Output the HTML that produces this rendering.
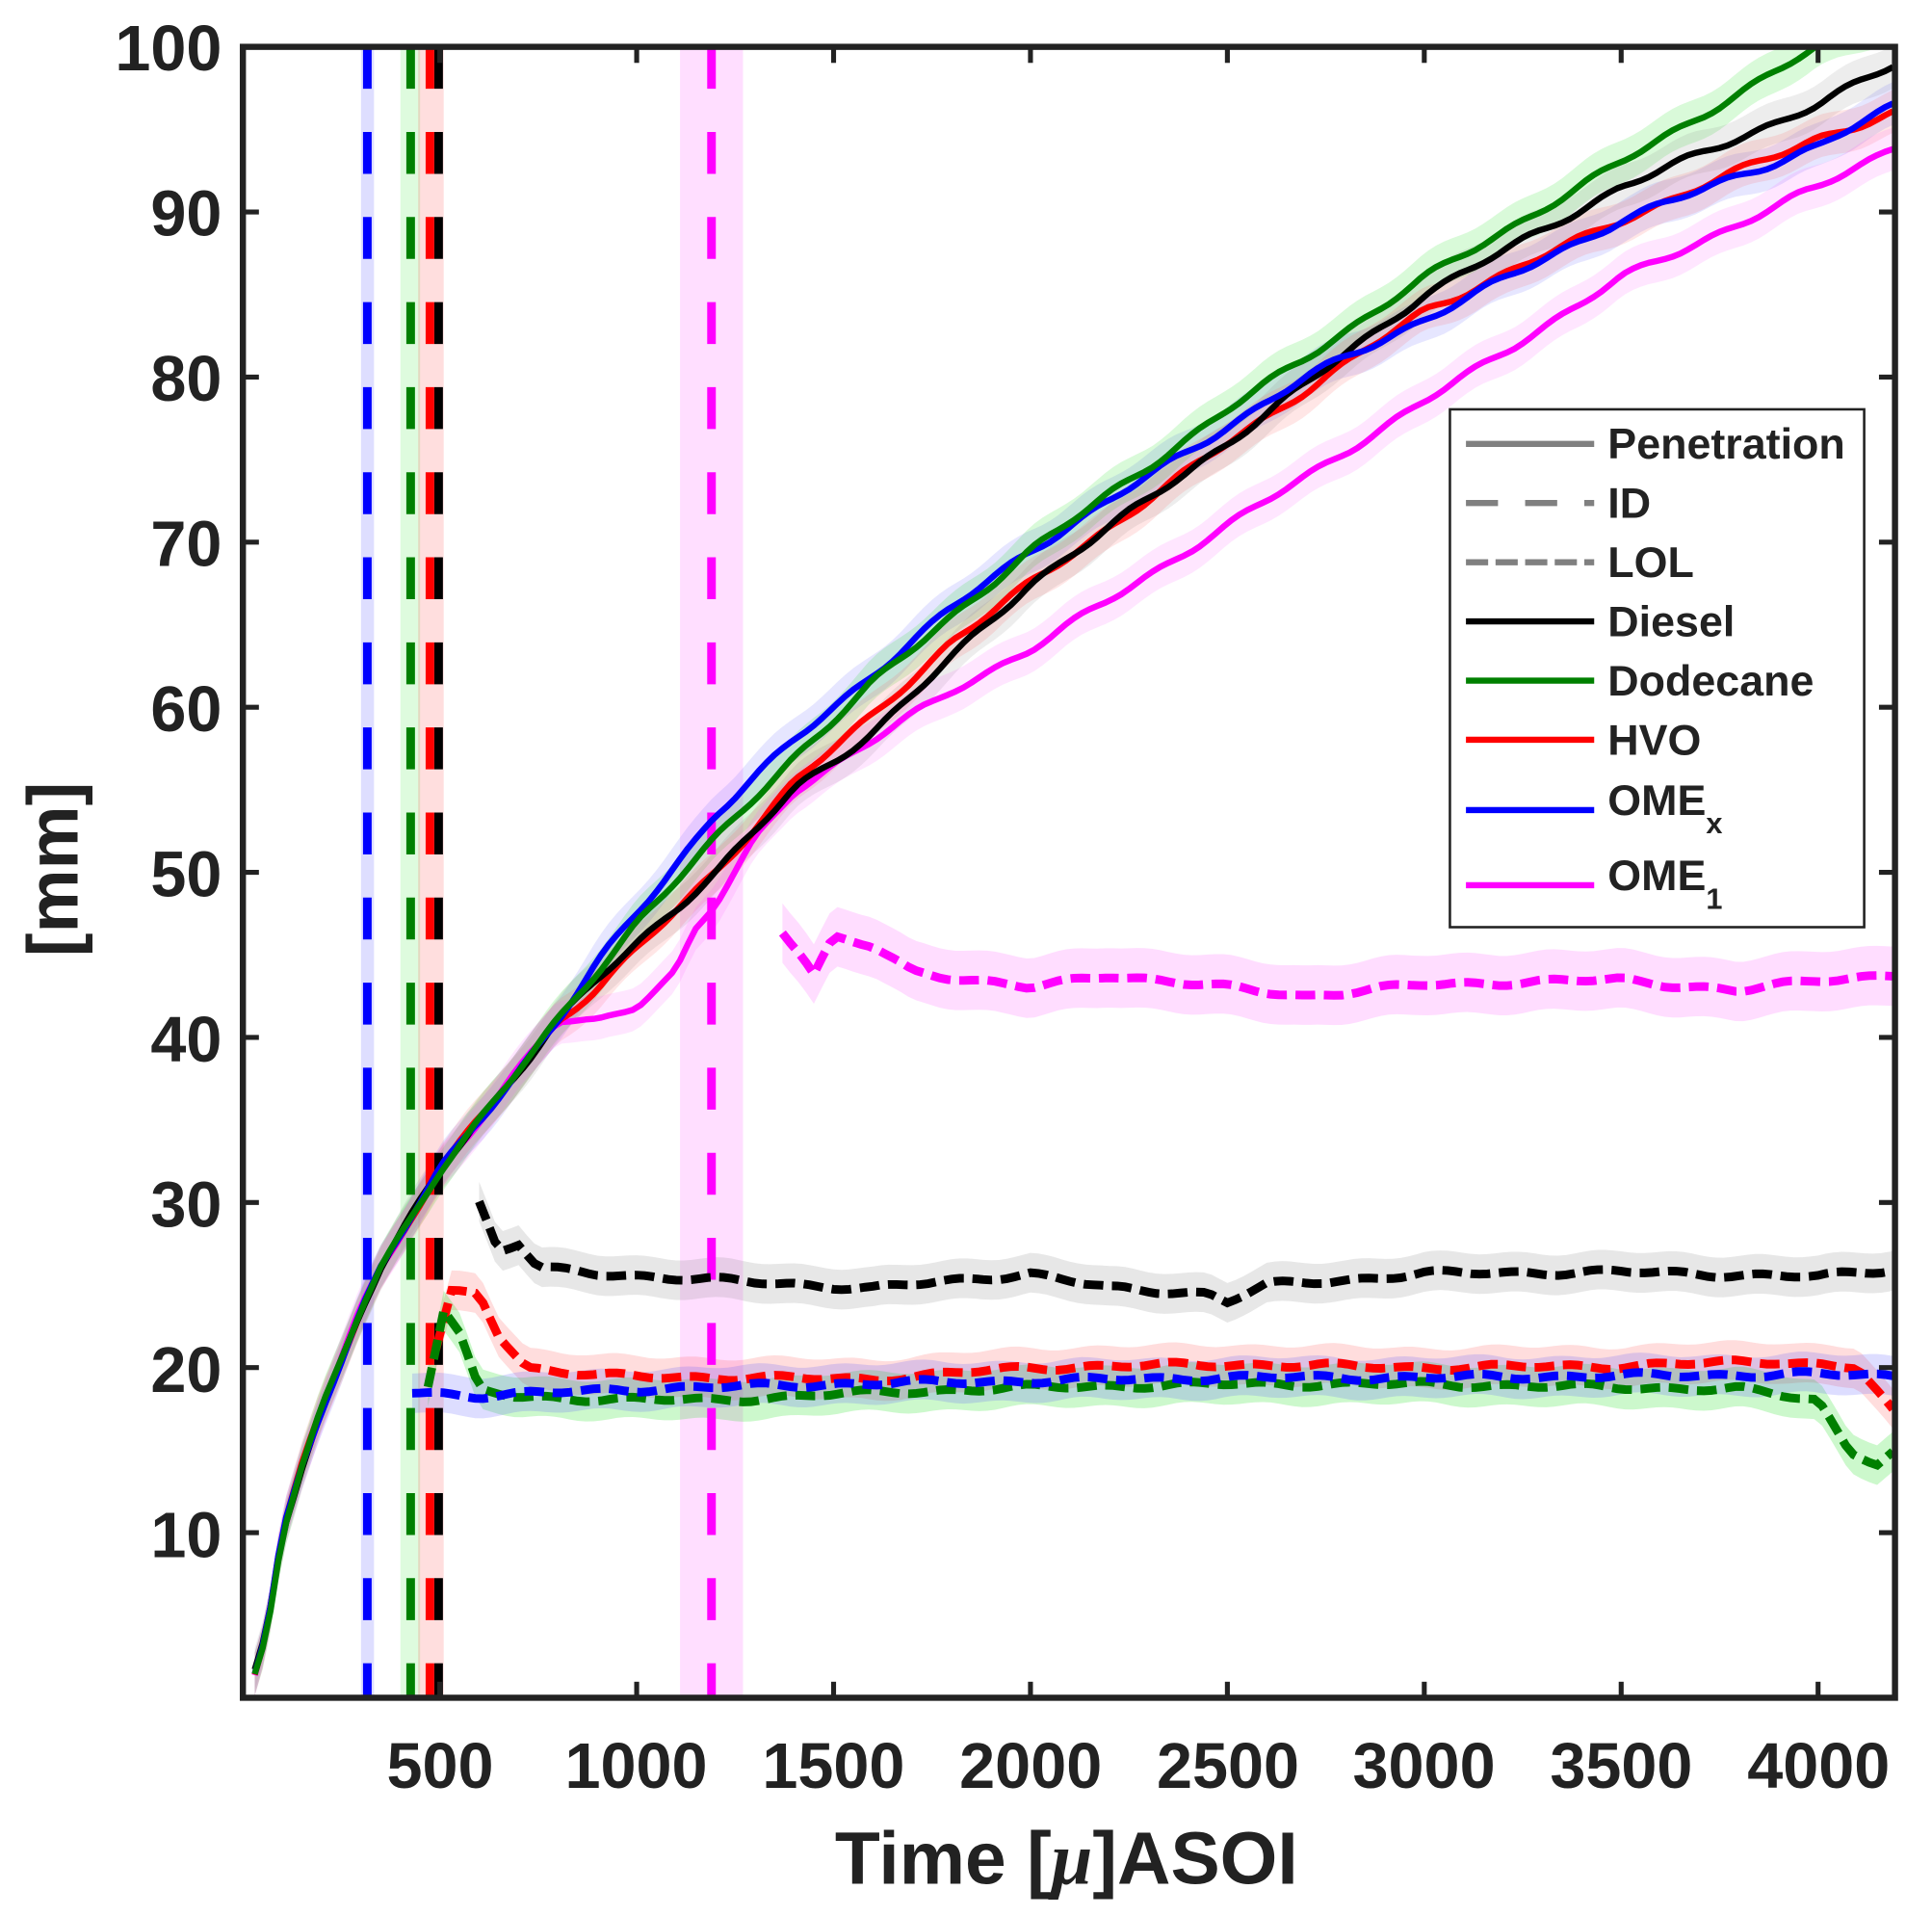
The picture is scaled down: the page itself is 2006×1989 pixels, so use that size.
<!DOCTYPE html>
<html><head><meta charset="utf-8"><style>
html,body{margin:0;padding:0;background:#fff;}
svg{display:block;}
text{font-family:"Liberation Sans",Arial,sans-serif;font-weight:bold;fill:#222;}
</style></head><body>
<svg id="s" width="2006" height="1989" viewBox="0 0 1567 1554" preserveAspectRatio="none" xmlns="http://www.w3.org/2000/svg">
<defs><clipPath id="c"><rect x="197" y="38" width="1340" height="1339"/></clipPath></defs>
<rect width="1567" height="1554" fill="#fff"/>
<g id="plot" clip-path="url(#c)"></g>
<rect x="197" y="38" width="1340" height="1339" fill="none" stroke="#222" stroke-width="5"/>
<g id="ticks" stroke="#222" stroke-width="4"></g>
<g font-size="52" text-anchor="end">
<text x="180" y="57">100</text><text x="180" y="191">90</text><text x="180" y="325">80</text>
<text x="180" y="459">70</text><text x="180" y="593">60</text><text x="180" y="727">50</text>
<text x="180" y="861">40</text><text x="180" y="995">30</text><text x="180" y="1129">20</text>
<text x="180" y="1263">10</text>
</g>
<g font-size="52" text-anchor="middle">
<text x="357" y="1450">500</text><text x="516" y="1450">1000</text><text x="676" y="1450">1500</text>
<text x="836" y="1450">2000</text><text x="996" y="1450">2500</text><text x="1155" y="1450">3000</text>
<text x="1315" y="1450">3500</text><text x="1475" y="1450">4000</text>
</g>
<text x="865" y="1528" font-size="60" text-anchor="middle">Time [<tspan font-style="italic" font-family="Liberation Serif">μ</tspan>]ASOI</text>
<text transform="translate(63,705) rotate(-90)" font-size="58" text-anchor="middle">[mm]</text>
<rect x="1176" y="332" width="336" height="420" fill="#fff" stroke="#222" stroke-width="2"/>
<g stroke-width="5">
<line x1="1189" y1="360" x2="1293" y2="360" stroke="#808080"/>
<line x1="1189" y1="408" x2="1293" y2="408" stroke="#808080" stroke-dasharray="26 22"/>
<line x1="1189" y1="456" x2="1293" y2="456" stroke="#808080" stroke-dasharray="18 6"/>
<line x1="1189" y1="504" x2="1293" y2="504" stroke="#000"/>
<line x1="1189" y1="552" x2="1293" y2="552" stroke="#008000"/>
<line x1="1189" y1="600" x2="1293" y2="600" stroke="#ff0000"/>
<line x1="1189" y1="657" x2="1293" y2="657" stroke="#0000ff"/>
<line x1="1189" y1="718" x2="1293" y2="718" stroke="#ff00ff"/>
</g>
<g font-size="35" fill="#000">
<text x="1304" y="372" fill="#111">Penetration</text>
<text x="1304" y="420">ID</text>
<text x="1304" y="468">LOL</text>
<text x="1304" y="516">Diesel</text>
<text x="1304" y="564">Dodecane</text>
<text x="1304" y="612">HVO</text>
<text x="1304" y="661">OME<tspan font-size="24" dy="15">x</tspan></text>
<text x="1304" y="722">OME<tspan font-size="24" dy="15">1</tspan></text>
</g>
</svg>
<script>
const NS="http://www.w3.org/2000/svg";
const X=t=>197+t*0.3194, Y=v=>1377-13.39*v;
const plot=document.getElementById('plot');
function el(n,a){const e=document.createElementNS(NS,n);for(const k in a)e.setAttribute(k,a[k]);plot.appendChild(e);return e;}
function interp(pts,t){for(let i=0;i<pts.length-1;i++){if(t>=pts[i][0]&&t<=pts[i+1][0]){const f=(t-pts[i][0])/(pts[i+1][0]-pts[i][0]);return pts[i][1]+f*(pts[i+1][1]-pts[i][1]);}}return null;}
function series(pts,step,noise,seed){const out=[];const t0=pts[0][0],t1=pts[pts.length-1][0];for(let t=t0;t<=t1+0.1;t+=step){let v=interp(pts,Math.min(t,t1));v+=noise*(Math.sin(t*0.031+seed)*0.6+Math.sin(t*0.0137+seed*2)*0.4);out.push([t,v]);}return out;}
function pathOf(s){return s.map((p,i)=>(i?'L':'M')+X(p[0]).toFixed(1)+' '+Y(p[1]).toFixed(1)).join(' ');}
function band(s,w,col,op){let d=s.map((p,i)=>(i?'L':'M')+X(p[0]).toFixed(1)+' '+Y(p[1]+w).toFixed(1)).join(' ');
 for(let i=s.length-1;i>=0;i--)d+='L'+X(s[i][0]).toFixed(1)+' '+Y(s[i][1]-w).toFixed(1);el('path',{d:d+'Z',fill:col,'fill-opacity':op});}
function vband(t0,t1,col){el('rect',{x:X(t0),y:38,width:X(t1)-X(t0),height:1339,fill:col,'fill-opacity':0.13});}
vband(300,333,'#0000ff');vband(400,450,'#00dd00');vband(445,510,'#ff0000');vband(1110,1270,'#ff00ff');
const start=[[30,1.5],[60,4],[100,10],[150,14],[200,17.5],[250,20.5],[300,23.5],[350,26],[400,28],[450,30],[500,32],[600,35],[700,38],[800,41]];
const P={
 blue:start.concat([[900,44.5],[1000,47.5],[1100,50.5],[1200,53.5],[1400,58],[1600,62],[1800,66],[2000,69.5],[2500,77],[2700,80],[3000,83.5],[3500,89.5],[4000,94],[4200,96.5]]),
 green:start.concat([[900,44],[1000,47],[1200,52],[1400,57],[1600,61.5],[1800,65.5],[2000,69.5],[2500,78],[3000,86],[3500,93],[4000,100],[4200,102]]),
 black:start.concat([[900,43.5],[1200,50],[1400,55],[1600,58.5],[1800,63],[2000,67.5],[2500,76],[3000,85],[3500,91.5],[4000,96.5],[4200,99]]),
 red:start.concat([[900,43],[1200,50],[1400,55.5],[1600,59.5],[1800,64],[2000,67.5],[2500,76],[3000,84],[3500,89.5],[4000,94.5],[4200,96]]),
 magenta:start.concat([[900,41],[1000,42],[1100,44],[1150,46.5],[1200,48],[1300,52],[1400,55],[1600,58],[1800,61],[2000,63.5],[2500,71],[3000,78.5],[3500,86],[4000,91.5],[4200,94]])
};
const L={
 black:[[600,30],[650,27],[700,27.5],[750,26],[900,25.7],[1200,25.3],[1600,24.8],[2000,25.7],[2200,24.8],[2450,24.5],[2500,24],[2600,25],[2800,25.3],[3000,25.7],[3500,25.8],[4000,25.5],[4200,26]],
 red:[[490,21],[530,24.5],[600,24.5],[650,22],[720,20],[900,19.5],[1200,19.4],[1600,19.3],[2000,20],[2500,20.2],[3000,20],[3500,20.1],[3900,20.4],[4100,20],[4200,17]],
 green:[[470,19],[510,23.5],[550,22],[600,18.6],[700,18.2],[1200,18],[1500,18.4],[2000,18.8],[2500,19],[3000,19],[3500,18.8],[3800,18.7],[4000,18],[4080,15],[4150,14.2],[4200,15]],
 blue:[[430,18.5],[600,18.3],[1000,18.7],[1500,19],[2000,19.2],[2500,19.4],[3000,19.4],[3500,19.5],[4000,19.6],[4200,19.5]],
 magenta:[[1370,46.5],[1420,45],[1450,43.8],[1500,46],[1600,45.5],[1700,44],[2000,43],[2200,43.8],[2700,42.5],[3000,43.2],[3500,43.5],[3800,42.8],[4000,43.5],[4200,43.8]]
};
const C={black:'#000',green:'#008000',red:'#ff0000',blue:'#0000ff',magenta:'#ff00ff'};
const BC={black:'#888',green:'#00dd00',red:'#ff5555',blue:'#5555ff',magenta:'#ff55ff'};
const seeds={black:1,green:2,red:3,blue:4,magenta:5};
const PS={},LS={};
for(const k in P){PS[k]=series(P[k],20,0.25,seeds[k]);band(PS[k],1.3,BC[k],0.15);}
for(const k in L){LS[k]=series(L[k],20,0.2,seeds[k]+7);band(LS[k],k=='magenta'?1.8:1.2,BC[k],0.2);}
function vline(t,col){el('line',{x1:X(t),y1:38,x2:X(t),y2:1377,stroke:col,'stroke-width':7,'stroke-dasharray':'34 35'});}
vline(316,'#0000ff');vline(426,'#008000');vline(497,'#000');vline(475,'#ff0000');vline(1190,'#ff00ff');
for(const k of ['magenta','black','red','green','blue'])el('path',{d:pathOf(LS[k]),fill:'none',stroke:C[k],'stroke-width':7,'stroke-dasharray':'16 7'});
for(const k of ['magenta','red','black','blue','green'])el('path',{d:pathOf(PS[k]),fill:'none',stroke:C[k],'stroke-width':5,'stroke-linejoin':'round'});
const tk=document.getElementById('ticks');
function tl(x1,y1,x2,y2){const e=document.createElementNS(NS,'line');e.setAttribute('x1',x1);e.setAttribute('y1',y1);e.setAttribute('x2',x2);e.setAttribute('y2',y2);tk.appendChild(e);}
for(let v=10;v<=90;v+=10){tl(197,Y(v),210,Y(v));tl(1537,Y(v),1524,Y(v));}
for(let t=500;t<=4000;t+=500){tl(X(t),1377,X(t),1364);tl(X(t),38,X(t),51);}
</script>
</body></html>
